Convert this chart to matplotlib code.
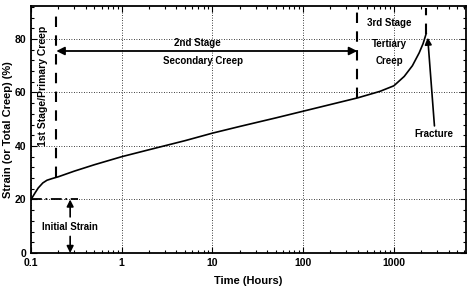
import numpy as np
import matplotlib.pyplot as plt
from matplotlib.ticker import LogLocator, MultipleLocator, NullFormatter

plt.rcParams['font.family'] = ['Liberation Sans', 'DejaVu Sans']
plt.rcParams['font.weight'] = 'bold'

# creep curve
time_h = [0.1, 0.11, 0.12, 0.135, 0.15, 0.17, 0.2, 0.3, 0.5, 1, 2, 5, 10, 20, 50,
          100, 200, 400, 700, 1000, 1300, 1600, 1900, 2100, 2270]
strain = [20, 22.3, 24.3, 26.2, 27.2, 27.8, 28.5, 30.6, 33.0, 36.0, 38.6, 42.0,
          44.8, 47.3, 50.5, 53.0, 55.5, 58.0, 60.4, 62.5, 66.0, 70.0, 74.8, 78.3, 82.0]

x_ticks = [0.1, 1, 10, 100, 1000]
x_tick_labels = ["0.1", "1", "10", "100", "1000"]
y_ticks = [0, 20, 40, 60, 80]

t_primary = 0.19
t_tertiary = 395
t_fracture = 2270
initial_strain = 20

fig = plt.figure(figsize=(4.7, 2.88), dpi=100)
ax = fig.add_axes([0.066, 0.1215, 0.925, 0.8575])

ax.plot(time_h, strain, color='black', lw=1.2)

ax.set_xscale('log')
ax.set_xlim(0.1, 6200)
ax.set_ylim(0, 92.3)
ax.set_xticks(x_ticks)
ax.set_xticklabels(x_tick_labels)
ax.xaxis.set_minor_locator(LogLocator(base=10, subs=np.arange(2, 10)))
ax.xaxis.set_minor_formatter(NullFormatter())
ax.set_yticks(y_ticks)
ax.yaxis.set_minor_locator(MultipleLocator(4))
ax.tick_params(which='both', direction='in', top=True, right=True, labelsize=7.5, width=0.8)
ax.tick_params(which='major', length=4)
ax.tick_params(which='minor', length=2)
for lab in ax.get_xticklabels() + ax.get_yticklabels():
    lab.set_fontweight('bold')
for s in ax.spines.values():
    s.set_linewidth(1.3)

ax.grid(True, which='major', linestyle=(0, (1, 2)), color='black', lw=0.6)

ax.set_xlabel("Time (Hours)", fontsize=8, fontweight='bold', labelpad=6)
ax.set_ylabel("Strain (or Total Creep) (%)", fontsize=8, fontweight='bold', labelpad=1)

dash = (0, (5, 4))
ax.plot([t_primary, t_primary], [28.4, 90], color='black', lw=1.5, ls=dash)
ax.plot([t_tertiary, t_tertiary], [58, 90], color='black', lw=1.5, ls=dash)
ax.plot([t_fracture, t_fracture], [82, 91.5], color='black', lw=1.5, ls=dash)

ax.annotate("", xy=(t_primary, 75.5), xytext=(t_tertiary, 75.5),
            arrowprops=dict(arrowstyle='<|-|>', color='black', lw=1.3,
                            mutation_scale=12, shrinkA=0, shrinkB=0))

ax.plot([0.1, 0.33], [initial_strain, initial_strain], color='black', lw=1.3,
        ls=(0, (6, 2, 1, 2)))
ax.text(0.27, 9.8, "Initial Strain", fontsize=7, fontweight='bold', ha='center', va='center')
ax.annotate("", xy=(0.27, initial_strain), xytext=(0.27, 13.5),
            arrowprops=dict(arrowstyle='-|>', color='black', lw=1.2,
                            mutation_scale=10, shrinkA=0, shrinkB=0))
ax.annotate("", xy=(0.27, 0), xytext=(0.27, 6.2),
            arrowprops=dict(arrowstyle='-|>', color='black', lw=1.2,
                            mutation_scale=10, shrinkA=0, shrinkB=0))

ax.text(0.135, 62.5, "1st Stage/Primary Creep", fontsize=7.5, fontweight='bold',
        rotation=90, ha='center', va='center')
ax.text(6.8, 78.6, "2nd Stage", fontsize=7, fontweight='bold', ha='center', va='center')
ax.text(7.8, 71.8, "Secondary Creep", fontsize=7, fontweight='bold', ha='center', va='center')
ax.text(880, 86, "3rd Stage", fontsize=7, fontweight='bold', ha='center', va='center')
ax.text(900, 78.2, "Tertiary", fontsize=7, fontweight='bold', ha='center', va='center')
ax.text(900, 71.8, "Creep", fontsize=7, fontweight='bold', ha='center', va='center')
ax.text(2760, 44.6, "Fracture", fontsize=7, fontweight='bold', ha='center', va='center')
ax.annotate("", xy=(2360, 80.5), xytext=(2800, 47.5),
            arrowprops=dict(arrowstyle='-|>', color='black', lw=1.2,
                            mutation_scale=10, shrinkA=0, shrinkB=0))

fig.savefig("out.png", dpi=100)
